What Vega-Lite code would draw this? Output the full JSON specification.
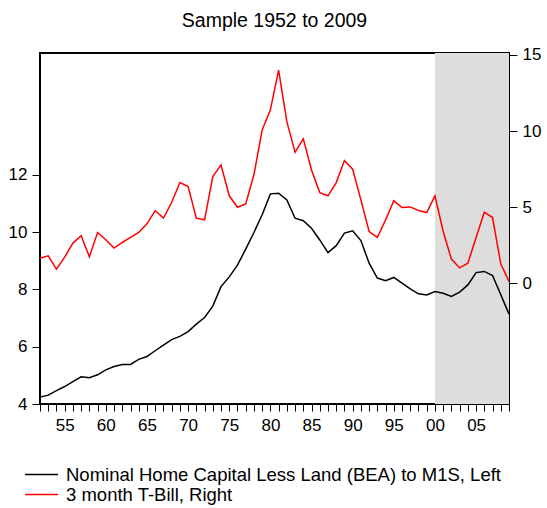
{
  "$schema": "https://vega.github.io/schema/vega-lite/v6.json",
  "autosize": {"type": "none"},
  "width": 469,
  "height": 351,
  "padding": {"left": 40, "top": 53, "right": 38, "bottom": 104},
  "background": "white",
  "title": {
    "text": "Sample 1952 to 2009",
    "font": "Liberation Sans",
    "fontSize": 19.5,
    "fontWeight": "normal",
    "color": "black",
    "anchor": "middle",
    "frame": "group",
    "offset": 14
  },
  "datasets": {
    "series": [
      {"year": 1952, "home": 4.24, "tbill": 1.64},
      {"year": 1953, "home": 4.31, "tbill": 1.79},
      {"year": 1954, "home": 4.47, "tbill": 0.92},
      {"year": 1955, "home": 4.61, "tbill": 1.71},
      {"year": 1956, "home": 4.78, "tbill": 2.63},
      {"year": 1957, "home": 4.95, "tbill": 3.11},
      {"year": 1958, "home": 4.92, "tbill": 1.73},
      {"year": 1959, "home": 5.02, "tbill": 3.33},
      {"year": 1960, "home": 5.19, "tbill": 2.85},
      {"year": 1961, "home": 5.31, "tbill": 2.30},
      {"year": 1962, "home": 5.38, "tbill": 2.67},
      {"year": 1963, "home": 5.38, "tbill": 3.00},
      {"year": 1964, "home": 5.56, "tbill": 3.33},
      {"year": 1965, "home": 5.66, "tbill": 3.90},
      {"year": 1966, "home": 5.86, "tbill": 4.77},
      {"year": 1967, "home": 6.06, "tbill": 4.27},
      {"year": 1968, "home": 6.25, "tbill": 5.30},
      {"year": 1969, "home": 6.36, "tbill": 6.61},
      {"year": 1970, "home": 6.53, "tbill": 6.35},
      {"year": 1971, "home": 6.79, "tbill": 4.27},
      {"year": 1972, "home": 7.02, "tbill": 4.16},
      {"year": 1973, "home": 7.42, "tbill": 7.00},
      {"year": 1974, "home": 8.10, "tbill": 7.77},
      {"year": 1975, "home": 8.44, "tbill": 5.74},
      {"year": 1976, "home": 8.85, "tbill": 4.99},
      {"year": 1977, "home": 9.41, "tbill": 5.21},
      {"year": 1978, "home": 9.99, "tbill": 7.12},
      {"year": 1979, "home": 10.61, "tbill": 10.07},
      {"year": 1980, "home": 11.34, "tbill": 11.39},
      {"year": 1981, "home": 11.36, "tbill": 14.01},
      {"year": 1982, "home": 11.13, "tbill": 10.62},
      {"year": 1983, "home": 10.49, "tbill": 8.61},
      {"year": 1984, "home": 10.40, "tbill": 9.48},
      {"year": 1985, "home": 10.14, "tbill": 7.44},
      {"year": 1986, "home": 9.73, "tbill": 5.95},
      {"year": 1987, "home": 9.29, "tbill": 5.74},
      {"year": 1988, "home": 9.53, "tbill": 6.61},
      {"year": 1989, "home": 9.97, "tbill": 8.06},
      {"year": 1990, "home": 10.05, "tbill": 7.49},
      {"year": 1991, "home": 9.71, "tbill": 5.47},
      {"year": 1992, "home": 8.92, "tbill": 3.39},
      {"year": 1993, "home": 8.40, "tbill": 3.00},
      {"year": 1994, "home": 8.31, "tbill": 4.16},
      {"year": 1995, "home": 8.42, "tbill": 5.41},
      {"year": 1996, "home": 8.22, "tbill": 4.97},
      {"year": 1997, "home": 8.02, "tbill": 5.01},
      {"year": 1998, "home": 7.85, "tbill": 4.77},
      {"year": 1999, "home": 7.81, "tbill": 4.64},
      {"year": 2000, "home": 7.93, "tbill": 5.74},
      {"year": 2001, "home": 7.87, "tbill": 3.39},
      {"year": 2002, "home": 7.76, "tbill": 1.58},
      {"year": 2003, "home": 7.91, "tbill": 1.00},
      {"year": 2004, "home": 8.16, "tbill": 1.31},
      {"year": 2005, "home": 8.59, "tbill": 3.00},
      {"year": 2006, "home": 8.63, "tbill": 4.66},
      {"year": 2007, "home": 8.49, "tbill": 4.31},
      {"year": 2008, "home": 7.82, "tbill": 1.27},
      {"year": 2009, "home": 7.14, "tbill": 0.11}
    ],
    "band": [{"year": 2000, "end": 2009}]
  },
  "encoding": {
    "x": {
      "field": "year", "type": "quantitative",
      "scale": {"domain": [1952, 2009], "nice": false, "zero": false},
      "axis": {
        "orient": "bottom",
        "title": null,
        "values": [1952,1953,1954,1955,1956,1957,1958,1959,1960,1961,1962,1963,1964,1965,1966,1967,1968,1969,1970,1971,1972,1973,1974,1975,1976,1977,1978,1979,1980,1981,1982,1983,1984,1985,1986,1987,1988,1989,1990,1991,1992,1993,1994,1995,1996,1997,1998,1999,2000,2001,2002,2003,2004,2005,2006,2007,2008,2009],
        "labelExpr": "datum.value % 5 == 0 ? substring(datum.label, 2, 4) : ''",
        "labelOverlap": false,
        "labelFlush": false,
        "tickSize": 7,
        "labelPadding": 6,
        "domain": false,
        "grid": false,
        "format": "d"
      }
    }
  },
  "layer": [
    {
      "data": {"name": "band"},
      "mark": {"type": "rect", "color": "#dddddd"},
      "encoding": {
        "x2": {"field": "end"}
      }
    },
    {
      "data": {"name": "series"},
      "mark": {"type": "line", "strokeWidth": 1.5},
      "encoding": {
        "y": {
          "field": "home", "type": "quantitative",
          "scale": {"domain": [4, 16.26], "nice": false, "zero": false},
          "axis": {"orient": "left", "title": null, "values": [4, 6, 8, 10, 12], "tickSize": 8, "labelPadding": 5, "domain": false, "grid": false}
        },
        "color": {
          "datum": "Nominal Home Capital Less Land (BEA) to M1S, Left",
          "type": "nominal",
          "scale": {"domain": ["Nominal Home Capital Less Land (BEA) to M1S, Left", "3 month T-Bill, Right"], "range": ["#000000", "#ff0000"]},
          "legend": {"orient": "none", "legendX": -9, "legendY": 411, "title": null}
        }
      }
    },
    {
      "data": {"name": "series"},
      "mark": {"type": "line", "strokeWidth": 1.5},
      "encoding": {
        "y": {
          "field": "tbill", "type": "quantitative",
          "scale": {"domain": [-7.95, 15.13], "nice": false, "zero": false},
          "axis": {"orient": "right", "title": null, "values": [0, 5, 10, 15], "tickSize": 8, "labelPadding": 5, "domain": false, "grid": false}
        },
        "color": {
          "datum": "3 month T-Bill, Right",
          "type": "nominal",
          "legend": {"orient": "none", "legendX": -9, "legendY": 411, "title": null}
        }
      }
    }
  ],
  "resolve": {"scale": {"y": "independent"}, "axis": {"y": "independent"}},
  "config": {
    "view": {"stroke": "black", "strokeWidth": 2},
    "axis": {
      "labelFont": "Liberation Sans",
      "labelFontSize": 17,
      "labelColor": "black",
      "tickColor": "black",
      "tickWidth": 1
    },
    "legend": {
      "labelFont": "Liberation Sans",
      "labelFontSize": 18.5,
      "labelColor": "black",
      "symbolType": "M-1.74,0H1.74",
      "symbolSize": 361,
      "symbolStrokeWidth": 1.5,
      "labelOffset": 14,
      "rowPadding": 0,
      "padding": 0,
      "labelLimit": 600
    }
  }
}
